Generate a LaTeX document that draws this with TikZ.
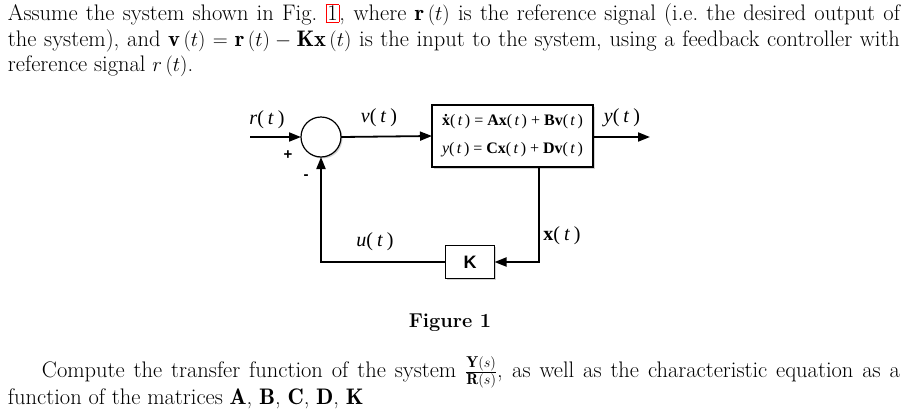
\documentclass[tikz,border=0pt]{standalone}
\usepackage{fontspec}
\newfontfamily\figserif{Liberation Serif}
\newfontfamily\figsans{Liberation Sans}
\usetikzlibrary{arrows.meta,shadows}
% signal label, e.g. r( t )
\newcommand{\sig}[1]{#1(\hspace{.2em}\textit{t}\hspace{.2em})}
\begin{document}
\begin{tikzpicture}[x=1pt,y=-1pt,inner sep=0pt,outer sep=0pt,line width=1.8pt,
>={Triangle[length=12pt,width=9pt]},
bodytext/.style={text width=892pt,align=justify,font=\fontsize{22.5}{25.5}\selectfont},
sysblock/.style={draw,rectangle,fill=white,line width=1.2pt,
  drop shadow={shadow xshift=1.5pt,shadow yshift=-1.5pt,opacity=.35}},
siglabel/.style={font=\figserif\fontsize{20}{22}\selectfont},
signlabel/.style={font=\figsans\bfseries\fontsize{15}{16}\selectfont}]
\useasboundingbox (0,0) rectangle (908,410);
% text above the figure
\node[bodytext,anchor=north west] (intro) at (8,4) {Assume the system shown in Fig.~{\setlength{\fboxsep}{1pt}\setlength{\fboxrule}{.8pt}\textcolor{red}{\fbox{\textcolor{black}{1}}}}, where $\mathbf{r}\left(t\right)$ is the reference signal (i.e.\ the desired output of\linebreak the system), and $\mathbf{v}\left(t\right)=\mathbf{r}\left(t\right)-\mathbf{K}\mathbf{x}\left(t\right)$ is the input to the system, using a feedback controller with\linebreak reference signal $r\left(t\right)$.};
% blocks
\draw (321,137) node[sysblock,circle,minimum size=40pt] (sum1) {};
\draw (512.5,136) node[sysblock,minimum width=161pt,minimum height=62pt,align=center,
  font=\figserif\fontsize{16}{28}\selectfont] (plant)
  {\textbf{\.x}(\hspace{.15em}\textit{t}\hspace{.15em}) = \textbf{Ax}(\hspace{.15em}\textit{t}\hspace{.15em}) + \textbf{Bv}(\hspace{.15em}\textit{t}\hspace{.15em})\\
   \textit{y}(\hspace{.15em}\textit{t}\hspace{.15em}) = \textbf{Cx}(\hspace{.15em}\textit{t}\hspace{.15em}) + \textbf{Dv}(\hspace{.15em}\textit{t}\hspace{.15em})};
\draw (470,262) node[sysblock,minimum width=49pt,minimum height=33pt,
  font=\figsans\bfseries\fontsize{18}{20}\selectfont] (K) {K};
\coordinate (rin) at (250,137);
\coordinate (yout) at (650,137);
\coordinate (tap) at (539,262);
% connections
\draw[->] (rin) -- (sum1.west);
\draw[->] (sum1.east) -- (plant.west);
\draw[->] (plant.east |- yout) -- (yout);
\draw[->] (plant.south -| tap) -- (tap) -- (K.east);
\draw[->] (K.west) -| (sum1.south);
% labels
\node[siglabel] (rlab) at (267,120) {\sig{\textit{r}}};
\node[siglabel] (vlab) at (379,118) {\sig{\textit{v}}};
\node[siglabel] (ylab) at (622,118) {\sig{\textit{y}}};
\node[siglabel] (ulab) at (375,242) {\sig{\textit{u}}};
\node[siglabel] (xlab) at (562,236) {\sig{\textbf{x}}};
\node[signlabel] (plus) at (288,155) {+};
\node[signlabel] (minus) at (306,177) {-};
% caption and text below
\node[font=\bfseries\fontsize{20}{24}\selectfont,anchor=base] (cap) at (450,327) {Figure 1};
\node[bodytext,anchor=base west] (task) at (8,377) {\hspace*{34pt}Compute the transfer function of the system $\frac{\mathbf{Y}(s)}{\mathbf{R}(s)}$, as well as the characteristic equation as a\linebreak function of the matrices $\mathbf{A}$, $\mathbf{B}$, $\mathbf{C}$, $\mathbf{D}$, $\mathbf{K}$};
\end{tikzpicture}
\end{document}
